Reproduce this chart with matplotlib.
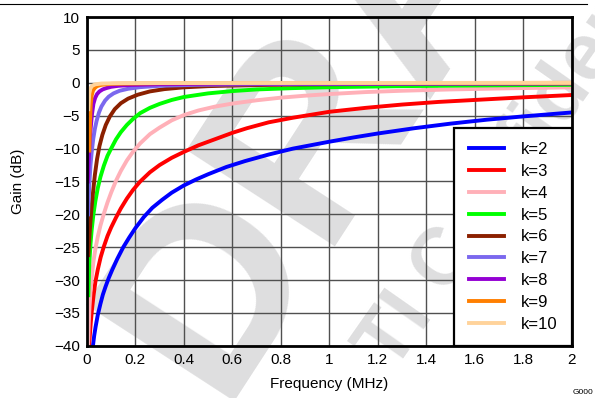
import matplotlib
matplotlib.use("Agg")
import matplotlib.pyplot as plt

plt.rcParams['font.family'] = ['Liberation Sans', 'DejaVu Sans']

# values (MHz, dB)
k2_f = [0.025, 0.03, 0.036, 0.045, 0.056, 0.066, 0.077, 0.09, 0.105, 0.125, 0.15, 0.175, 0.2, 0.235, 0.27, 0.31, 0.35, 0.4, 0.45, 0.5, 0.575, 0.652, 0.75, 0.85, 1.0, 1.1, 1.2, 1.35, 1.5, 1.65, 1.8, 2.0]
k2_g = [-40.0, -38.5, -37.1, -35.3, -33.6, -32.2, -31.0, -29.7, -28.4, -26.8, -25.0, -23.5, -22.1, -20.4, -19.0, -17.8, -16.7, -15.6, -14.7, -13.9, -12.8, -11.9, -10.9, -10.0, -8.95, -8.3, -7.7, -6.9, -6.2, -5.6, -5.1, -4.5]

k3_f = [0.009, 0.012, 0.016, 0.021, 0.028, 0.035, 0.045, 0.057, 0.07, 0.085, 0.1, 0.12, 0.14, 0.165, 0.19, 0.22, 0.26, 0.3, 0.35, 0.4, 0.46, 0.53, 0.6, 0.66, 0.75, 0.85, 1.0, 1.15, 1.3, 1.45, 1.6, 1.8, 2.0]
k3_g = [-40.0, -38.5, -36.5, -34.5, -32.2, -30.3, -28.4, -26.5, -24.9, -23.3, -22.0, -20.5, -19.1, -17.6, -16.3, -15.0, -13.6, -12.5, -11.4, -10.5, -9.5, -8.55, -7.6, -6.9, -6.0, -5.3, -4.4, -3.8, -3.3, -2.9, -2.6, -2.2, -1.85]

k4_f = [0.005, 0.008, 0.011, 0.015, 0.02, 0.027, 0.035, 0.045, 0.056, 0.07, 0.085, 0.1, 0.12, 0.14, 0.165, 0.19, 0.22, 0.26, 0.3, 0.35, 0.4, 0.46, 0.53, 0.6, 0.7, 0.8, 0.9, 1.0, 1.15, 1.3, 1.5, 1.75, 2.0]
k4_g = [-40.0, -36.5, -34.0, -31.8, -29.6, -27.2, -25.3, -23.4, -21.7, -19.9, -18.2, -16.7, -14.9, -13.4, -11.8, -10.5, -9.2, -7.8, -6.8, -5.7, -4.9, -4.2, -3.6, -3.15, -2.65, -2.25, -1.95, -1.7, -1.4, -1.2, -1.0, -0.82, -0.68]

k5_f = [0.006, 0.01, 0.015, 0.02, 0.027, 0.035, 0.045, 0.056, 0.07, 0.085, 0.1, 0.12, 0.14, 0.165, 0.19, 0.22, 0.26, 0.3, 0.35, 0.4, 0.5, 0.6, 0.7, 0.85, 1.0, 1.3, 1.6, 2.0]
k5_g = [-32.3, -27.5, -24.5, -22.3, -20.0, -18.0, -16.0, -14.3, -12.6, -11.1, -10.0, -8.6, -7.5, -6.4, -5.5, -4.6, -3.8, -3.2, -2.6, -2.15, -1.6, -1.25, -1.0, -0.8, -0.66, -0.5, -0.4, -0.3]

k6_f = [0.006, 0.012, 0.018, 0.025, 0.033, 0.042, 0.052, 0.064, 0.078, 0.095, 0.115, 0.14, 0.17, 0.21, 0.26, 0.32, 0.4, 0.5, 0.65, 0.9, 1.3, 2.0]
k6_g = [-26.2, -22.5, -19.5, -16.8, -14.0, -11.6, -9.6, -7.9, -6.4, -5.1, -4.0, -3.1, -2.4, -1.8, -1.3, -0.95, -0.68, -0.5, -0.36, -0.24, -0.15, -0.1]

k7_f = [0.005, 0.01, 0.015, 0.02, 0.026, 0.033, 0.04, 0.05, 0.06, 0.075, 0.09, 0.11, 0.135, 0.17, 0.22, 0.3, 0.45, 0.7, 1.2, 2.0]
k7_g = [-20.0, -15.5, -12.5, -10.5, -8.6, -7.0, -5.8, -4.5, -3.6, -2.7, -2.1, -1.6, -1.2, -0.9, -0.65, -0.45, -0.3, -0.2, -0.12, -0.08]

k8_f = [0.004, 0.008, 0.012, 0.016, 0.021, 0.027, 0.034, 0.042, 0.052, 0.065, 0.08, 0.1, 0.13, 0.18, 0.3, 0.6, 2.0]
k8_g = [-15.0, -11.5, -8.8, -6.8, -4.8, -3.2, -2.3, -1.7, -1.3, -1.0, -0.8, -0.6, -0.45, -0.33, -0.2, -0.12, -0.05]

k9_f = [0.01, 0.013, 0.016, 0.02, 0.025, 0.032, 0.042, 0.06, 0.1, 0.3, 2.0]
k9_g = [-10.3, -6.0, -3.2, -1.9, -1.2, -0.8, -0.5, -0.3, -0.15, -0.05, 0.0]

k10_f = [0.006, 0.01, 0.015, 0.022, 0.035, 0.06, 0.15, 2.0]
k10_g = [-4.0, -1.6, -0.8, -0.45, -0.22, -0.1, -0.03, 0.0]

labels = ['k=2', 'k=3', 'k=4', 'k=5', 'k=6', 'k=7', 'k=8', 'k=9', 'k=10']
colors = ['#0000FF', '#FF0000', '#FFB0B8', '#00FF00', '#8B2000', '#7B68EE', '#9400D3', '#FF7F00', '#FFD39B']
curves = [(k2_f, k2_g), (k3_f, k3_g), (k4_f, k4_g), (k5_f, k5_g), (k6_f, k6_g),
          (k7_f, k7_g), (k8_f, k8_g), (k9_f, k9_g), (k10_f, k10_g)]

xticks = [0, 0.2, 0.4, 0.6, 0.8, 1, 1.2, 1.4, 1.6, 1.8, 2]
xticklabels = ['0', '0.2', '0.4', '0.6', '0.8', '1', '1.2', '1.4', '1.6', '1.8', '2']
yticks = [10, 5, 0, -5, -10, -15, -20, -25, -30, -35, -40]

fig = plt.figure(figsize=(5.95, 3.98), dpi=100)

# draft watermark behind everything (it runs off the page in the original too)
fig.text(0.671, 1.0, 'DRAFT', fontsize=185, fontweight='bold', color='#DEDEDF',
         rotation=57, rotation_mode='anchor', ha='center', va='center', zorder=-5)
fig.text(0.902, 0.668, 'TI Confidential', fontsize=58, fontweight='bold', color='#DEDEDF',
         rotation=55, rotation_mode='anchor', ha='center', va='center', zorder=-5)

ax = fig.add_axes([0.146, 0.131, 0.815, 0.826])
ax.set_facecolor('none')

for (f, g), c, lab in zip(curves, colors, labels):
    ax.plot(f, g, color=c, lw=2.8, label=lab, solid_joinstyle='round')

ax.set_xlim(0, 2)
ax.set_ylim(-40, 10)
ax.set_xticks(xticks)
ax.set_xticklabels(xticklabels)
ax.set_yticks(yticks)
ax.grid(True, color='#505050', lw=1.0)
ax.set_axisbelow(True)
ax.tick_params(length=0, labelsize=11, pad=5)
for s in ax.spines.values():
    s.set_linewidth(2.0)
    s.set_color('black')

ax.set_xlabel('Frequency (MHz)', fontsize=11, labelpad=7)
ax.set_ylabel('Gain (dB)', fontsize=11, labelpad=21)

leg = ax.legend(loc='lower right', borderaxespad=0, fontsize=12, frameon=True,
                fancybox=False, handlelength=2.15, handletextpad=1.0,
                labelspacing=0.41, borderpad=0.85)
leg.get_frame().set_edgecolor('black')
leg.get_frame().set_linewidth(1.6)
leg.get_frame().set_facecolor('white')
leg.get_frame().set_alpha(1)

# header rule and figure id
fig.add_artist(plt.Line2D([0.0, 0.987], [0.99, 0.99], color='black', lw=0.8))
fig.text(0.962, 0.005, 'G000', fontsize=6, ha='left', va='bottom')

fig.savefig('out.png', dpi=100)
